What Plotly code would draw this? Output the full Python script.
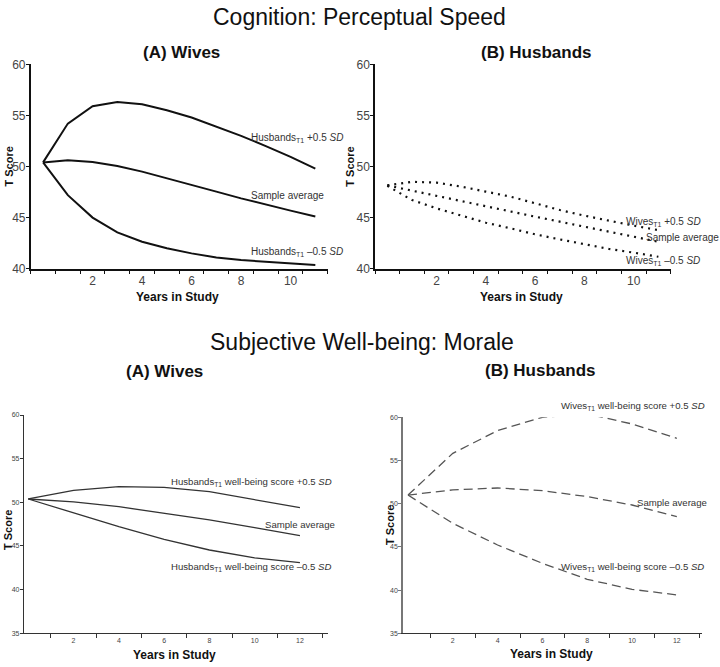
import plotly.graph_objects as go

# ---------------- data ----------------
years_top = [0, 1, 2, 3, 4, 5, 6, 7, 8, 9, 10, 11]
wives_cog_plus = [50.4, 54.2, 55.9, 56.3, 56.1, 55.5, 54.8, 53.9, 53.0, 52.0, 50.95, 49.8]
wives_cog_avg = [50.4, 50.6, 50.45, 50.05, 49.5, 48.87, 48.22, 47.54, 46.88, 46.26, 45.68, 45.1]
wives_cog_minus = [50.4, 47.2, 45.0, 43.56, 42.64, 42.0, 41.5, 41.1, 40.85, 40.68, 40.52, 40.36]

husb_cog_plus = [48.15, 48.5, 48.42, 48.03, 47.54, 47.05, 46.4, 45.74, 45.19, 44.67, 44.21, 43.78]
husb_cog_avg = [48.15, 47.63, 47.11, 46.59, 46.07, 45.58, 45.09, 44.6, 44.11, 43.62, 43.13, 42.64]
husb_cog_minus = [48.1, 46.72, 45.9, 45.19, 44.5, 43.95, 43.36, 42.87, 42.41, 41.93, 41.57, 41.17]

years_bottom = [0, 2, 4, 6, 8, 10, 12]
wives_mor_plus = [50.4, 51.37, 51.8, 51.72, 51.22, 50.34, 49.39]
wives_mor_avg = [50.38, 50.04, 49.5, 48.74, 47.98, 47.1, 46.18]
wives_mor_minus = [50.38, 48.82, 47.21, 45.76, 44.54, 43.63, 43.09]

husb_mor_plus = [51.0, 55.83, 58.46, 60.0, 60.39, 59.23, 57.57]
husb_mor_avg = [51.0, 51.6, 51.82, 51.51, 50.82, 49.85, 48.5]
husb_mor_minus = [51.0, 47.73, 45.22, 43.1, 41.25, 40.09, 39.44]

top_xlabels = [2, 4, 6, 8, 10]
bottom_xlabels = [2, 4, 6, 8, 10, 12]
top_yticks = [40, 45, 50, 55, 60]
bottom_yticks = [35, 40, 45, 50, 55, 60]

W, H = 720, 667
FONT = "Liberation Sans, Arial, sans-serif"


def px(x):
    return x / W


def py(y):
    return 1 - y / H


fig = go.Figure()

# top-left: solid
for ys in (wives_cog_plus, wives_cog_avg, wives_cog_minus):
    fig.add_trace(go.Scatter(x=years_top, y=ys, mode="lines", xaxis="x", yaxis="y", cliponaxis=False,
                             line=dict(color="#111111", width=2), showlegend=False, hoverinfo="skip"))
# top-right: dotted
for ys in (husb_cog_plus, husb_cog_avg, husb_cog_minus):
    fig.add_trace(go.Scatter(x=years_top, y=ys, mode="lines", xaxis="x2", yaxis="y2", cliponaxis=False,
                             line=dict(color="#111111", width=2.2, dash="2px,5px"), showlegend=False, hoverinfo="skip"))
# bottom-left: thin solid
for ys in (wives_mor_plus, wives_mor_avg, wives_mor_minus):
    fig.add_trace(go.Scatter(x=years_bottom, y=ys, mode="lines", xaxis="x3", yaxis="y3", cliponaxis=False,
                             line=dict(color="#333333", width=1.3), showlegend=False, hoverinfo="skip"))
# bottom-right: dashed
for ys in (husb_mor_plus, husb_mor_avg, husb_mor_minus):
    fig.add_trace(go.Scatter(x=years_bottom, y=ys, mode="lines", xaxis="x4", yaxis="y4", cliponaxis=False,
                             line=dict(color="#555555", width=1.3, dash="9px,5px"), showlegend=False, hoverinfo="skip"))


def xaxis(domain, rng, labels, minor_vals, anchor, fsize, lc, lw):
    return dict(domain=domain, range=rng, anchor=anchor, showgrid=False, zeroline=False,
                showline=True, linecolor=lc, linewidth=lw, automargin=False,
                tickmode="array", tickvals=labels, ticktext=[str(v) for v in labels],
                ticks="", tickfont=dict(family=FONT, size=fsize, color="#444444"),
                minor=dict(tickmode="array", tickvals=minor_vals, ticks="outside",
                           ticklen=4, tickcolor=lc, tickwidth=1, showgrid=False),
                fixedrange=True)


def yaxis(domain, rng, ticks, anchor, fsize, lc, lw, standoff):
    return dict(domain=domain, range=rng, anchor=anchor, showgrid=False, zeroline=False,
                showline=True, linecolor=lc, linewidth=lw, automargin=False,
                tickmode="array", tickvals=ticks, ticks="outside", ticklen=3,
                tickcolor=lc, tickwidth=1, ticklabelstandoff=standoff,
                tickfont=dict(family=FONT, size=fsize, color="#444444"), fixedrange=True)


top_minor = [v - 0.5 for v in range(13)]
bottom_minor = [1, 3, 5, 7, 9, 11, 13]

fig.update_layout(
    width=W, height=H, margin=dict(l=0, r=0, t=0, b=0, autoexpand=False),
    paper_bgcolor="white", plot_bgcolor="white",
    xaxis=xaxis([px(30.7), px(327.7)], [-0.5, 11.5], top_xlabels, top_minor, "y", 12, "#111111", 1.5),
    yaxis=yaxis([py(268.7), py(64.3)], [40, 60], top_yticks, "x", 12, "#111111", 1.5, -2),
    xaxis2=xaxis([px(375), px(670.7)], [-0.5, 11.5], top_xlabels, top_minor, "y2", 12, "#111111", 1.5),
    yaxis2=yaxis([py(268.7), py(64.3)], [40, 60], top_yticks, "x2", 12, "#111111", 1.5, -2),
    xaxis3=xaxis([px(24), px(328)], [-0.19, 13.24], bottom_xlabels, bottom_minor, "y3", 7, "#333333", 1.2),
    yaxis3=yaxis([py(633.3), py(415)], [35, 60], bottom_yticks, "x3", 7, "#333333", 1.2, -1),
    xaxis4=xaxis([px(403.3), px(701.7)], [-0.21, 13.11], bottom_xlabels, bottom_minor, "y4", 7, "#333333", 1.2),
    yaxis4=yaxis([py(633.3), py(417.3)], [35, 60], bottom_yticks, "x4", 7, "#777777", 2, -1),
)

ann = []


def text(x, y, s, size, bold=False, angle=0, xanchor="center", color="#111111"):
    ann.append(dict(x=px(x), y=py(y), xref="paper", yref="paper", text=f"<b>{s}</b>" if bold else s,
                    showarrow=False, textangle=angle, xanchor=xanchor, yanchor="middle",
                    font=dict(family=FONT, size=size, color=color)))


# main titles
text(359, 17, "Cognition: Perceptual Speed", 23)
text(362, 342, "Subjective Well-being: Morale", 23)
# panel titles
text(181.7, 52.7, "(A) Wives", 17, bold=True)
text(536.7, 52.7, "(B) Husbands", 17, bold=True)
text(164, 371.7, "(A) Wives", 17, bold=True)
text(540, 370.5, "(B) Husbands", 17, bold=True)
# axis titles
text(177.7, 296.7, "Years in Study", 12, bold=True)
text(521.7, 296.7, "Years in Study", 12, bold=True)
text(174, 655, "Years in Study", 12, bold=True)
text(551.7, 654, "Years in Study", 12, bold=True)
text(8.8, 166.7, "T Score", 11, bold=True, angle=-90)
text(350, 166.7, "T Score", 11, bold=True, angle=-90)
text(8.0, 530, "T Score", 11, bold=True, angle=-90)
text(390, 525, "T Score", 11, bold=True, angle=-90)

# curve labels (pixel positions of their left edges)
sub = "<sub>T1</sub>"
S1, S2 = 10, 9.6
text(249, 138.3, f"Husbands{sub} +0.5 <i>SD</i>", S1, xanchor="left", color="#333333")
text(249, 195.7, "Sample average", S1, xanchor="left", color="#333333")
text(249, 251.7, f"Husbands{sub} \u20130.5 <i>SD</i>", S1, xanchor="left", color="#333333")

text(624, 221.7, f"Wives{sub} +0.5 <i>SD</i>", S1, xanchor="left", color="#333333")
text(644, 237.7, "Sample average", S1, xanchor="left", color="#333333")
text(624, 260.7, f"Wives{sub} \u20130.5 <i>SD</i>", S1, xanchor="left", color="#333333")

text(169, 482.3, f"Husbands{sub} well-being score +0.5 <i>SD</i>", S2, xanchor="left", color="#333333")
text(263, 524, "Sample average", S2, xanchor="left", color="#333333")
text(169, 566.7, f"Husbands{sub} well-being score \u20130.5 <i>SD</i>", S2, xanchor="left", color="#333333")

text(559, 406, f"Wives{sub} well-being score +0.5 <i>SD</i>", S2, xanchor="left", color="#333333")
text(635, 502.7, "Sample average", S2, xanchor="left", color="#333333")
text(559, 567.3, f"Wives{sub} well-being score \u20130.5 <i>SD</i>", S2, xanchor="left", color="#333333")

fig.update_layout(annotations=ann)

# remove the page's default body margin so the 720x667 figure fills the window exactly
fig.write_html("out.html", config={"displayModeBar": False},
               post_script="document.body.style.margin='0';document.body.style.overflow='hidden';")
